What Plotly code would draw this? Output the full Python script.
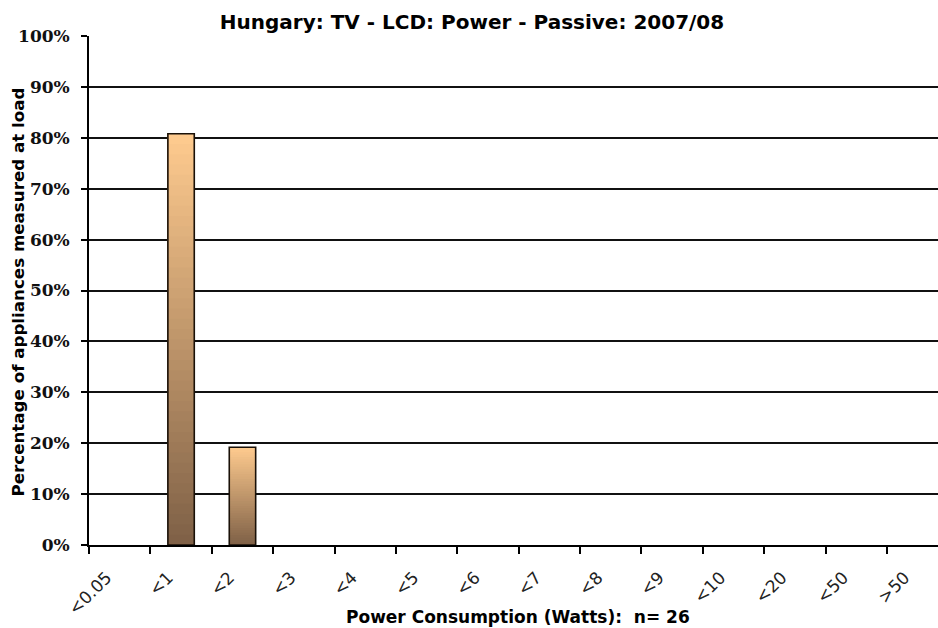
import plotly.graph_objects as go

categories = ["<0.05", "<1", "<2", "<3", "<4", "<5", "<6", "<7", "<8", "<9", "<10", "<20", "<50", ">50"]
percent = [0, 80.8, 19.2, 0, 0, 0, 0, 0, 0, 0, 0, 0, 0, 0]
y_ticks = [0, 10, 20, 30, 40, 50, 60, 70, 80, 90, 100]
y_tick_text = [f"{v}%" for v in y_ticks]

title_text = "Hungary: TV - LCD: Power - Passive: 2007/08"
x_title = "Power Consumption (Watts):\u00a0\u00a0n= 26"
y_title = "Percentage of appliances measured at load"

# vertical gradient (light peach at top -> dark brown at bottom) built by overlapping slices of each bar
top_rgb = (255, 203, 143)
bottom_rgb = (126, 96, 70)
n_steps = 40

fig = go.Figure()
for i in range(n_steps):
    t = (i + 0.5) / n_steps  # 0 bottom .. 1 top
    r = round(bottom_rgb[0] + (top_rgb[0] - bottom_rgb[0]) * t)
    g = round(bottom_rgb[1] + (top_rgb[1] - bottom_rgb[1]) * t)
    b = round(bottom_rgb[2] + (top_rgb[2] - bottom_rgb[2]) * t)
    fig.add_trace(go.Bar(
        x=categories,
        y=[(v * (n_steps - i) / n_steps) if v > 0 else None for v in percent],
        base=[v * i / n_steps for v in percent],
        marker=dict(color=f"rgb({r},{g},{b})", line=dict(width=0)),
        hoverinfo="skip",
        showlegend=False,
    ))

# outline of each whole bar
fig.add_trace(go.Bar(
    x=categories,
    y=[v if v > 0 else None for v in percent],
    marker=dict(color="rgba(0,0,0,0)", line=dict(color="#1a1108", width=1.6)),
    showlegend=False,
    hovertemplate="%{x}: %{y}%<extra></extra>",
))

fig.update_layout(
    width=938,
    height=628,
    margin=dict(l=89, r=0, t=36, b=83),
    paper_bgcolor="white",
    plot_bgcolor="white",
    barmode="overlay",
    bargap=0.57,
    title=dict(
        text=title_text,
        font=dict(family="DejaVu Sans", size=20, color="black", weight="bold"),
        x=472 / 938, xref="container", xanchor="center",
        y=1 - 22 / 628, yref="container", yanchor="middle",
    ),
    xaxis=dict(
        type="category",
        range=[-0.5, 13.33],
        tickson="boundaries",
        ticks="outside",
        ticklen=7,
        tickwidth=1.5,
        tickcolor="black",
        tickangle=-45,
        ticklabelshift=-13,
        ticklabelstandoff=14,
        tickfont=dict(family="DejaVu Sans", size=17, color="#222"),
        showline=True,
        linecolor="black",
        linewidth=1.8,
        showgrid=False,
        zeroline=False,
    ),
    yaxis=dict(
        range=[0, 100],
        tickvals=y_ticks,
        ticktext=y_tick_text,
        ticks="outside",
        ticklen=6,
        tickwidth=1.5,
        tickcolor="black",
        ticklabelstandoff=8,
        tickfont=dict(family="DejaVu Serif", size=17, color="#111", weight="bold"),
        showline=True,
        linecolor="black",
        linewidth=1.8,
        showgrid=True,
        gridcolor="#111",
        gridwidth=1.6,
        zeroline=False,
    ),
    annotations=[
        dict(
            text=x_title,
            xref="paper", yref="paper",
            x=(518 - 89) / 849, y=(545 - 617) / 509,
            xanchor="center", yanchor="middle",
            showarrow=False,
            font=dict(family="DejaVu Sans", size=17, color="black", weight="bold"),
        ),
        dict(
            text=y_title,
            xref="paper", yref="paper",
            x=(17 - 89) / 849, y=(545 - 292.5) / 509,
            xanchor="center", yanchor="middle",
            textangle=-90,
            showarrow=False,
            font=dict(family="DejaVu Sans", size=16.7, color="black", weight="bold"),
        ),
    ],
)

fig.write_html(
    "out.html",
    config={"displayModeBar": False},
    post_script="document.body.style.margin='0';",
)
